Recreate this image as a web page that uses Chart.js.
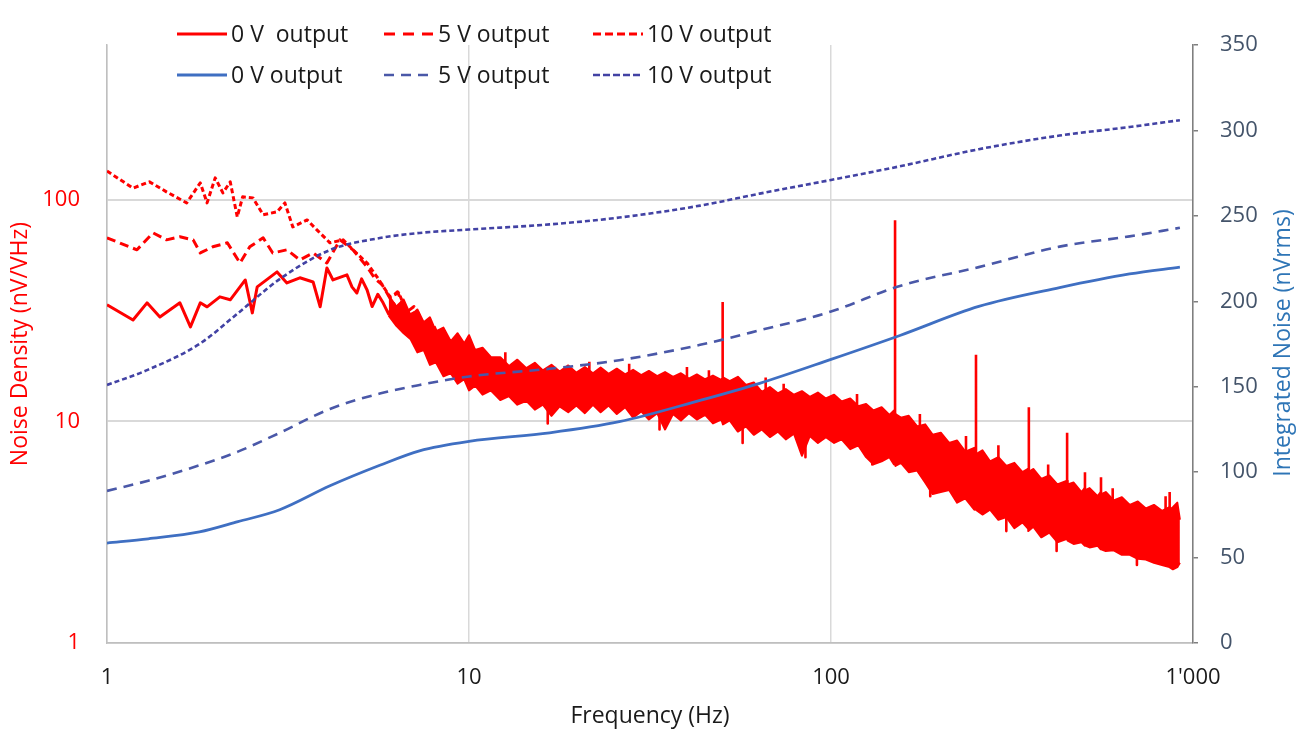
<!DOCTYPE html>
<html>
<head>
<meta charset="utf-8">
<script src="https://cdn.jsdelivr.net/npm/chart.js@4.4.1/dist/chart.umd.min.js"></script>
<style>
  html, body { margin: 0; padding: 0; background: #fff; }
  #wrap { width: 1305px; height: 747px; }
</style>
</head>
<body>
<div id="wrap"><canvas id="noise" width="1305" height="747"></canvas></div>
<script>
const xTicks = [1, 10, 100, 1000];
const xTickLabels = ['1', '10', '100', "1'000"];
const densityTicks = [1, 10, 100];

const redLabels = ['0 V  output', '5 V output', '10 V output'];
const blueLabels = ['0 V output', '5 V output', '10 V output'];

// integrated noise (nVrms), right axis
const blueFreq = [1, 1.3, 1.8, 2.3, 3, 4.13, 5.67, 7.3, 10, 16.7, 26, 43.5, 63.5, 100, 155, 256, 428, 668, 920];
const int0V = [58.5, 61, 65, 71, 78, 92, 104, 112.5, 118, 123, 129.5, 142, 152, 166, 180, 197, 208, 216, 220];
const int5V = [89, 95, 104, 112, 123, 137, 146, 151, 156, 160.5, 165.5, 174.5, 183, 194, 209, 220, 232, 238, 243];
const int10V = [151, 160, 175, 193, 213, 230, 237, 240, 242, 245, 249, 256, 263, 271, 279, 289, 297, 302, 306];

// noise density (nV/VHz), left axis, low frequency part
const dens0VFreq = [1.00, 1.18, 1.29, 1.40, 1.59, 1.70, 1.81, 1.89, 2.05, 2.19, 2.41, 2.52, 2.60, 2.95, 3.14, 3.41, 3.71, 3.88, 4.05, 4.21, 4.60, 4.75, 4.90, 5.05, 5.23, 5.40, 5.60, 5.79, 6.00, 6.20, 6.45, 6.70, 6.95, 7.19, 7.45, 7.70, 7.95, 8.20, 8.50, 8.86, 9.20, 9.50, 9.87, 10.3, 10.8, 11.4];
const dens0V = [33.6, 28.7, 34.3, 29.6, 34.3, 26.7, 34.3, 32.9, 36.5, 35.4, 43.5, 30.9, 40.5, 47.3, 42.2, 44.5, 42.6, 32.9, 49.3, 43.5, 45.9, 40.5, 38.0, 44.0, 39.2, 33.0, 37.5, 34.3, 30.5, 34.0, 29.6, 27.0, 30.0, 24.1, 22.0, 26.0, 22.6, 20.5, 23.5, 19.6, 18.0, 20.5, 17.6, 18.5, 15.5, 16.8];

const dens5VFreq = [1.00, 1.21, 1.34, 1.46, 1.59, 1.73, 1.81, 1.96, 2.15, 2.33, 2.48, 2.70, 2.87, 3.14, 3.41, 3.71, 4.05, 4.40, 4.78, 5.23, 5.50, 5.75, 6.05, 6.35, 6.70, 7.05, 7.40, 7.80, 8.20, 8.70, 9.20, 9.80, 10.4];
const dens5V = [67.4, 59.5, 71.0, 66.0, 68.1, 66.0, 57.6, 61.4, 64.0, 51.9, 61.4, 67.4, 57.6, 59.5, 53.6, 57.6, 51.9, 66.0, 59.5, 49.8, 44.0, 41.5, 36.0, 38.5, 31.0, 33.0, 26.5, 28.0, 22.5, 24.0, 19.5, 21.0, 17.0];

const dens10VFreq = [1.00, 1.18, 1.31, 1.46, 1.66, 1.81, 1.89, 1.99, 2.09, 2.19, 2.29, 2.37, 2.53, 2.70, 2.95, 3.10, 3.26, 3.57, 3.80, 4.13, 4.49, 4.78, 5.23, 5.57, 6.05, 6.40, 6.80, 7.20, 7.60, 8.00, 8.50, 9.00, 9.60, 10.2];
const dens10V = [135, 113, 120.6, 108.7, 96.9, 119.3, 96.9, 125.7, 107.5, 120.6, 83.8, 103.2, 102.1, 85.6, 88.3, 96.9, 75.5, 81.2, 73.2, 64.0, 66.0, 59.5, 51.9, 44.9, 36.5, 38.0, 30.0, 31.5, 25.5, 27.0, 21.5, 23.0, 18.5, 19.5];

// the three density traces overlap above ~6 Hz: upper and lower edge of the red band
const bandFreq = [6.0, 6.3, 6.6, 6.9, 7.2, 7.5, 7.8, 8.1, 8.5, 8.9, 9.3, 9.7, 10.0, 10.4, 10.9, 11.5, 12.2, 12.9, 13.6, 14.4,
  15.2, 16.0, 16.9, 17.8, 18.8, 19.8, 20.9, 22.0, 23.1, 24.3, 25.6, 27.0, 28.4, 29.9, 31.4, 33.1, 34.8, 36.6, 38.5, 40.5,
  42.6, 44.9, 47.2, 49.7, 50.0, 50.3, 52.5, 55.3, 58.2, 61.2, 64.4, 67.8, 71.3, 75.0, 79.0, 83.1, 87.4, 92.0, 96.8, 102,
  107, 113, 119, 125, 131, 138, 145, 149.3, 150, 150.7, 156, 164, 173, 182, 191, 201, 212, 223, 235, 248.8,
  250, 251.2, 262, 275, 290, 305, 321, 338, 349.2, 350, 350.8, 362, 381, 401, 422, 448.9, 450, 451.1, 468, 492,
  502, 503, 504, 518, 545, 556, 557, 558, 574, 604, 636, 669, 704, 741, 780, 821, 861, 862, 863, 880,
  905, 920];
const bandHigh = [37, 33, 35.5, 30, 32, 28, 29.5, 25.5, 26.5, 23, 25, 22.5, 24.5, 21, 21.5, 19.5, 19.5, 17.8, 19.0, 17.4,
  18.4, 17.0, 18.0, 16.8, 17.9, 16.6, 17.6, 16.5, 17.5, 16.4, 17.3, 16.3, 17.1, 16.2, 16.9, 16.0, 16.7, 15.9, 16.5, 15.6,
  16.3, 15.5, 16.1, 15.4, 15.6, 15.8, 15.2, 15.9, 14.6, 15.0, 13.6, 14.3, 13.4, 14.0, 13.2, 13.7, 12.9, 13.5, 12.7, 13.2,
  12.3, 12.7, 11.7, 12.0, 11.2, 11.6, 10.7, 11.2, 11.0, 10.8, 10.4, 10.6, 9.5, 9.7, 8.7, 8.9, 8.0, 8.2, 7.3, 7.6,
  7.3, 7.1, 7.4, 6.6, 6.9, 6.3, 6.5, 5.9, 6.1, 6.0, 5.9, 6.1, 5.5, 5.7, 5.2, 5.4, 5.3, 5.2, 5.3, 4.8,
  5.0, 4.95, 4.9, 5.0, 4.6, 4.8, 4.75, 4.7, 4.8, 4.4, 4.55, 4.2, 4.35, 4.05, 4.2, 3.95, 4.1, 4.05, 4.0, 4.1,
  4.3, 3.6];
const bandLow = [30, 27, 25, 23.5, 20.5, 21, 18, 18.5, 16, 16.5, 14.8, 15.5, 13.8, 14.5, 13.2, 13.8, 12.5, 13.0, 11.9, 12.4,
  11.3, 11.9, 10.6, 11.7, 11.0, 11.8, 10.9, 11.9, 11.0, 11.8, 10.8, 11.6, 10.4, 11.1, 10.2, 10.9, 9.2, 10.8, 10.1, 10.9,
  10.2, 10.7, 9.8, 10.2, 10.0, 9.7, 10.1, 9.0, 9.5, 8.7, 9.2, 8.5, 9.0, 8.3, 8.8, 7.0, 8.6, 8.0, 8.5, 8.0,
  8.3, 7.5, 7.8, 6.9, 6.4, 6.6, 6.9, 6.4, 6.6, 6.3, 6.5, 5.9, 6.0, 5.3, 4.7, 4.8, 4.9, 4.3, 4.5, 4.0,
  4.2, 4.0, 3.8, 4.0, 3.6, 3.7, 3.3, 3.5, 3.3, 3.4, 3.2, 3.35, 3.0, 3.15, 2.85, 2.95, 2.9, 2.9, 2.8, 2.85,
  2.75, 2.8, 2.75, 2.7, 2.75, 2.65, 2.7, 2.65, 2.6, 2.62, 2.5, 2.5, 2.4, 2.38, 2.3, 2.25, 2.2, 2.2, 2.2, 2.15,
  2.2, 2.3];

// narrow spikes (mains harmonics) and short noise excursions: frequency, from, to
const spikeFreq = [10.0, 12.6, 16.5, 21.5, 27.7, 33.6, 40.0, 46.0, 50.2, 57.0, 66.0, 74.0, 85.0, 118, 130, 150.3,
  176, 188, 236, 251.5, 290, 305, 352, 398, 420, 449, 503, 557, 600, 700, 840, 862];
const spikeFrom = [20.0, 17.0, 12.0, 15.0, 15.0, 11.0, 14.5, 14.0, 14.0, 9.5, 12.5, 12.0, 9.0, 11.0, 7.5, 10.0,
  9.0, 5.6, 7.0, 6.5, 6.0, 3.9, 5.5, 5.0, 3.2, 4.8, 4.5, 4.3, 4.1, 2.6, 3.7, 3.6];
const spikeTo = [23.5, 20.5, 9.8, 18.6, 18.2, 9.2, 17.6, 17.0, 34.6, 8.0, 15.8, 14.8, 6.9, 13.3, 6.4, 81,
  10.8, 4.6, 8.6, 20.0, 7.8, 3.2, 11.6, 6.4, 2.6, 8.9, 5.9, 5.6, 5.0, 2.25, 4.6, 4.8];

const RED = '#ff0000';
const BLUE_SOLID = '#3f6fc2';
const BLUE_DASH = '#4a58a8';
const BLUE_DOT = '#4242a4';
const FONT = "'Open Sans', sans-serif";

function xy(freq, vals) {
  return freq.map((f, i) => ({ x: f, y: vals[i] }));
}

// each spike is its own short vertical segment, separated by a gap
function segments(freq, from, to) {
  return freq.flatMap((f, i) => [{ x: f, y: from[i] }, { x: f, y: to[i] }, { x: f, y: null }]);
}

// legend slots: dataset index, line start x, row y
const legendSlots = [
  { index: 3, x: 177, y: 34 },
  { index: 4, x: 384, y: 34 },
  { index: 5, x: 593, y: 34 },
  { index: 0, x: 177, y: 75 },
  { index: 1, x: 384, y: 75 },
  { index: 2, x: 593, y: 75 },
];

const rowLegend = {
  id: 'rowLegend',
  afterDraw(chart) {
    const ctx = chart.ctx;
    legendSlots.forEach(slot => {
      const ds = chart.data.datasets[slot.index];
      ctx.save();
      ctx.strokeStyle = ds.borderColor;
      ctx.lineWidth = ds.borderWidth;
      ctx.setLineDash(ds.legendDash || []);
      ctx.beginPath();
      ctx.moveTo(slot.x, slot.y);
      ctx.lineTo(slot.x + 50, slot.y);
      ctx.stroke();
      ctx.setLineDash([]);
      ctx.font = '23px ' + FONT;
      ctx.fillStyle = '#1a1a1a';
      ctx.textBaseline = 'middle';
      ctx.fillText(ds.label, slot.x + 54, slot.y + 1);
      ctx.restore();
    });
  }
};

// right axis title reads bottom to top, like the left one
const rightTitle = {
  id: 'rightTitle',
  afterDraw(chart) {
    const ctx = chart.ctx;
    ctx.save();
    ctx.translate(1283, 343);
    ctx.rotate(-Math.PI / 2);
    ctx.font = '23px ' + FONT;
    ctx.fillStyle = '#2e75b6';
    ctx.textAlign = 'center';
    ctx.textBaseline = 'middle';
    ctx.fillText('Integrated Noise (nVrms)', 0, 0);
    ctx.restore();
  }
};

const lineBase = { pointRadius: 0, fill: false, borderJoinStyle: 'round' };

let ctx = document.getElementById('noise');

new Chart(ctx, {
  type: 'line',
  data: {
    datasets: [
      { ...lineBase, label: blueLabels[0], data: xy(blueFreq, int0V), yAxisID: 'yInt',
        borderColor: BLUE_SOLID, borderWidth: 2.8, cubicInterpolationMode: 'monotone' },
      { ...lineBase, label: blueLabels[1], data: xy(blueFreq, int5V), yAxisID: 'yInt',
        borderColor: BLUE_DASH, borderWidth: 2.6, borderDash: [10, 7], legendDash: [10, 7], cubicInterpolationMode: 'monotone' },
      { ...lineBase, label: blueLabels[2], data: xy(blueFreq, int10V), yAxisID: 'yInt',
        borderColor: BLUE_DOT, borderWidth: 2.6, borderDash: [5, 3], legendDash: [7, 3], cubicInterpolationMode: 'monotone' },
      { ...lineBase, label: redLabels[0], data: xy(dens0VFreq, dens0V), yAxisID: 'yDen',
        borderColor: RED, borderWidth: 3 },
      { ...lineBase, label: redLabels[1], data: xy(dens5VFreq, dens5V), yAxisID: 'yDen',
        borderColor: RED, borderWidth: 3, borderDash: [9, 5], legendDash: [11, 8] },
      { ...lineBase, label: redLabels[2], data: xy(dens10VFreq, dens10V), yAxisID: 'yDen',
        borderColor: RED, borderWidth: 3, borderDash: [5, 3], legendDash: [8, 4] },
      { ...lineBase, label: 'spikes', data: segments(spikeFreq, spikeFrom, spikeTo), yAxisID: 'yDen',
        borderColor: RED, borderWidth: 2.6, borderCapStyle: 'butt', spanGaps: false },
      { ...lineBase, label: 'band high', data: xy(bandFreq, bandHigh), yAxisID: 'yDen',
        borderColor: RED, borderWidth: 2 },
      { ...lineBase, label: 'band low', data: xy(bandFreq, bandLow), yAxisID: 'yDen',
        borderColor: RED, borderWidth: 2, fill: '-1', backgroundColor: RED },
    ]
  },
  options: {
    responsive: false,
    devicePixelRatio: 1,
    animation: false,
    layout: { padding: { top: 45, left: 0, right: 0, bottom: 0 } },
    plugins: {
      legend: { display: false },
      tooltip: { enabled: false },
    },
    scales: {
      x: {
        type: 'logarithmic',
        min: 1,
        max: 1000,
        afterBuildTicks: scale => { scale.ticks = xTicks.map(v => ({ value: v })); },
        afterFit: scale => { scale.height = 104; },
        ticks: {
          autoSkip: false,
          maxRotation: 0,
          padding: 22,
          color: '#1a1a1a',
          font: { family: FONT, size: 22 },
          callback: (value, i) => xTickLabels[i],
        },
        grid: { color: '#d9d9d9', lineWidth: 1.5, drawTicks: false },
        border: { color: '#bfbfbf', width: 1.5 },
        title: {
          display: true,
          text: 'Frequency (Hz)',
          color: '#1a1a1a',
          font: { family: FONT, size: 23 },
          padding: { top: 0, bottom: 17 },
        },
      },
      yDen: {
        type: 'logarithmic',
        position: 'left',
        min: 1,
        max: 500,
        afterBuildTicks: scale => { scale.ticks = densityTicks.map(v => ({ value: v })); },
        afterFit: scale => { scale.width = 107; },
        ticks: {
          autoSkip: false,
          padding: 27,
          color: RED,
          font: { family: FONT, size: 22 },
          callback: value => String(value),
        },
        grid: { color: '#d9d9d9', lineWidth: 2, drawTicks: false },
        border: { color: '#bfbfbf', width: 1.5 },
        title: {
          display: true,
          text: 'Noise Density (nV/VHz)',
          color: RED,
          font: { family: FONT, size: 23 },
          padding: { top: 7, bottom: 0 },
        },
      },
      yInt: {
        type: 'linear',
        position: 'right',
        min: 0,
        max: 350,
        afterFit: scale => { scale.width = 112; },
        ticks: {
          stepSize: 50,
          padding: 22,
          color: '#44546a',
          font: { family: FONT, size: 22 },
        },
        grid: { drawOnChartArea: false, tickLength: 5, color: '#7f7f7f', lineWidth: 1.5 },
        border: { color: '#7f7f7f', width: 1.5 },
      },
    },
  },
  plugins: [rowLegend, rightTitle],
});
</script>
</body>
</html>
